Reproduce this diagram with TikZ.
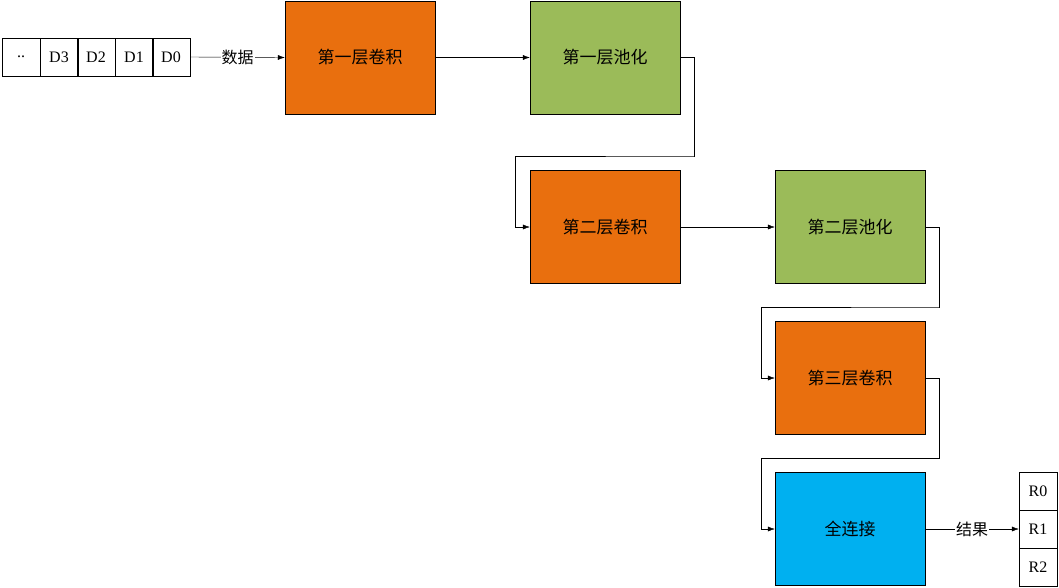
\documentclass[tikz,border=0pt]{standalone}
\usepackage{fontspec}
\setmainfont{Liberation Serif}
\newfontfamily\cjk{Noto Sans CJK SC}
\usetikzlibrary{arrows.meta}
\definecolor{org}{HTML}{E96F0E}
\definecolor{grn}{HTML}{9BBB59}
\definecolor{cyn}{HTML}{00B0F0}
\begin{document}
\begin{tikzpicture}[x=1pt,y=-1pt,
  every node/.style={font=\fontsize{16}{18}\selectfont},
  blk/.style={draw=black,thin,minimum width=150pt,minimum height=113pt,inner sep=0pt,font=\cjk\fontsize{17}{19}\selectfont},
  cell/.style={draw=black,thin,minimum width=38pt,minimum height=38pt,inner sep=0pt},
  arr/.style={-{Latex[length=7pt,width=5pt]},thin}]
\useasboundingbox (0,0) rectangle (1059,587);
\fill[white] (0,0) rectangle (1059,587);
\node[cell] (c0) at (21,57) {..};
\node[cell] (c1) at (59,57) {D3};
\node[cell] (c2) at (96,57) {D2};
\node[cell] (c3) at (134,57) {D1};
\node[cell] (c4) at (171,57) {D0};
\node[blk,fill=org] (b1) at (360,57.5) {第一层卷积};
\node[blk,fill=grn] (b2) at (605,57.5) {第一层池化};
\node[blk,fill=org] (b3) at (605,227) {第二层卷积};
\node[blk,fill=grn] (b4) at (850,227) {第二层池化};
\node[blk,fill=org] (b5) at (850,378) {第三层卷积};
\node[blk,fill=cyn] (b6) at (850,529) {\cjk 全连接};
\node[cell] (r0) at (1038,491) {R0};
\node[cell] (r1) at (1038,529) {R1};
\node[cell] (r2) at (1038,567) {R2};
\draw[arr] (c4.east) -- node[fill=white,inner sep=1pt,font=\cjk\fontsize{16}{18}\selectfont]{数据} (b1.west);
\draw[arr] (b1.east) -- (b2.west);
\draw[arr] (b2.east) -- ++(14,0) |- (694,156) -| (515,227) -- (b3.west);
\draw[arr] (b3.east) -- (b4.west);
\draw[arr] (b4.east) -- ++(14,0) |- (939,307) -| (761,378) -- (b5.west);
\draw[arr] (b5.east) -- ++(14,0) |- (939,458) -| (761,529) -- (b6.west);
\draw[arr] (b6.east) -- node[fill=white,inner sep=1pt,font=\cjk\fontsize{16}{18}\selectfont]{结果} (r1.west);
\end{tikzpicture}
\end{document}
